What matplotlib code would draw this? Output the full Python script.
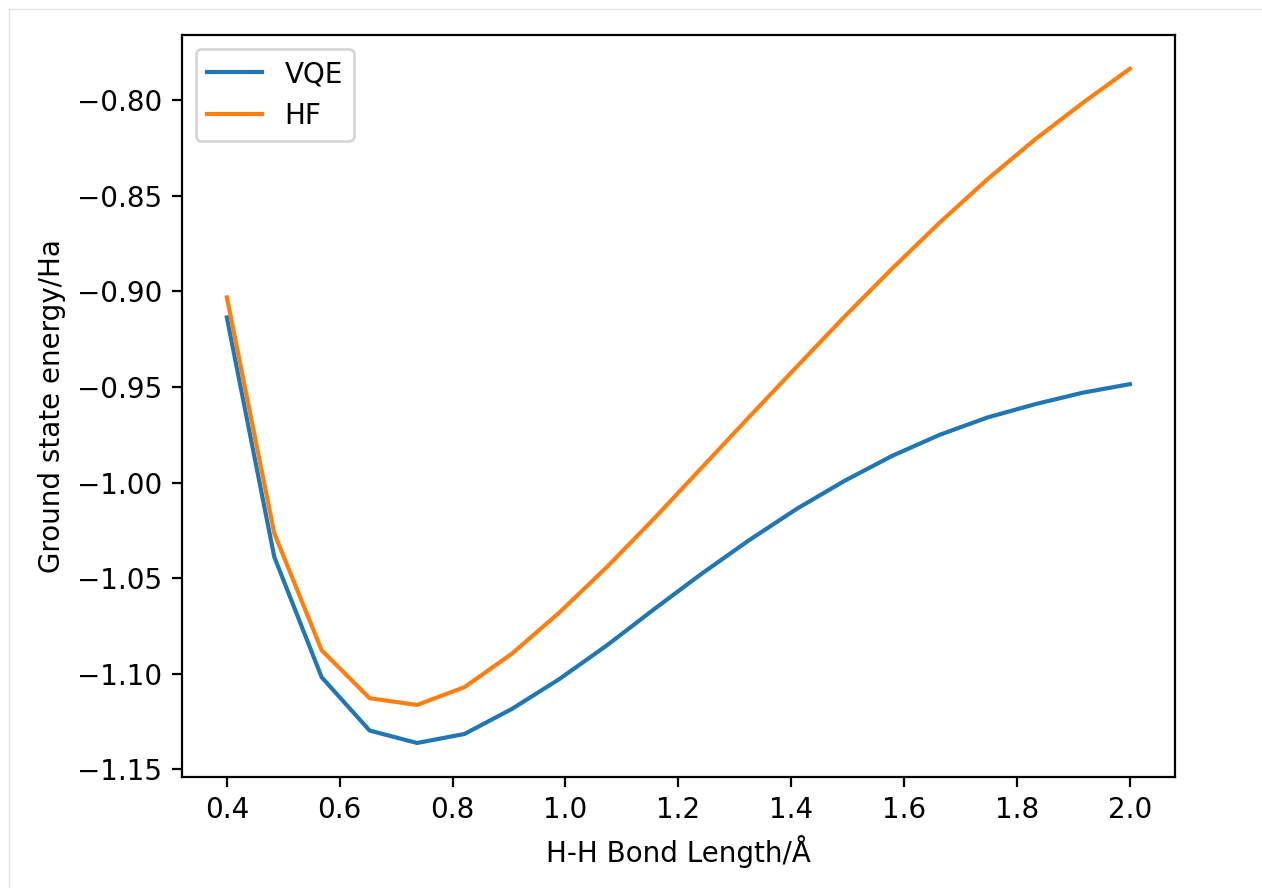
import matplotlib
matplotlib.use("Agg")
import matplotlib.pyplot as plt
from matplotlib.lines import Line2D

bond_length = [0.400, 0.484, 0.568, 0.653, 0.737, 0.821, 0.905, 0.989, 1.074, 1.158,
               1.242, 1.326, 1.411, 1.495, 1.579, 1.663, 1.747, 1.832, 1.916, 2.000]
vqe_energy = [-0.9136, -1.0388, -1.1018, -1.1297, -1.1362, -1.1315, -1.1184, -1.1028,
              -1.0850, -1.0660, -1.0475, -1.0300, -1.0135, -0.9990, -0.9860, -0.9750,
              -0.9660, -0.9590, -0.9530, -0.9485]
hf_energy = [-0.9031, -1.0265, -1.0877, -1.1128, -1.1163, -1.1070, -1.0895, -1.0680,
             -1.0440, -1.0185, -0.9920, -0.9655, -0.9390, -0.9130, -0.8880, -0.8640,
             -0.8415, -0.8205, -0.8015, -0.7835]

W, H = 1262, 888
fig = plt.figure(figsize=(W / 200, H / 200), dpi=200)

# light screenshot frame (top and left edges)
fx, fy = 8.5 / W, 1 - 9 / H
fig.add_artist(Line2D([fx, 1.0], [fy, fy], transform=fig.transFigure,
                      color="#e3e3e3", linewidth=0.5))
fig.add_artist(Line2D([fx, fx], [0.0, fy], transform=fig.transFigure,
                      color="#e3e3e3", linewidth=0.5))

ax = fig.add_axes([181.7 / W, 1 - 776.7 / H, (1175 - 181.7) / W, (776.7 - 35) / H])
ax.plot(bond_length, vqe_energy, label="VQE")
ax.plot(bond_length, hf_energy, label="HF")
ax.set_xlabel("H-H Bond Length/Å")
ax.set_ylabel("Ground state energy/Ha")
ax.legend(loc="upper left")
fig.savefig("out.png", dpi=200)
